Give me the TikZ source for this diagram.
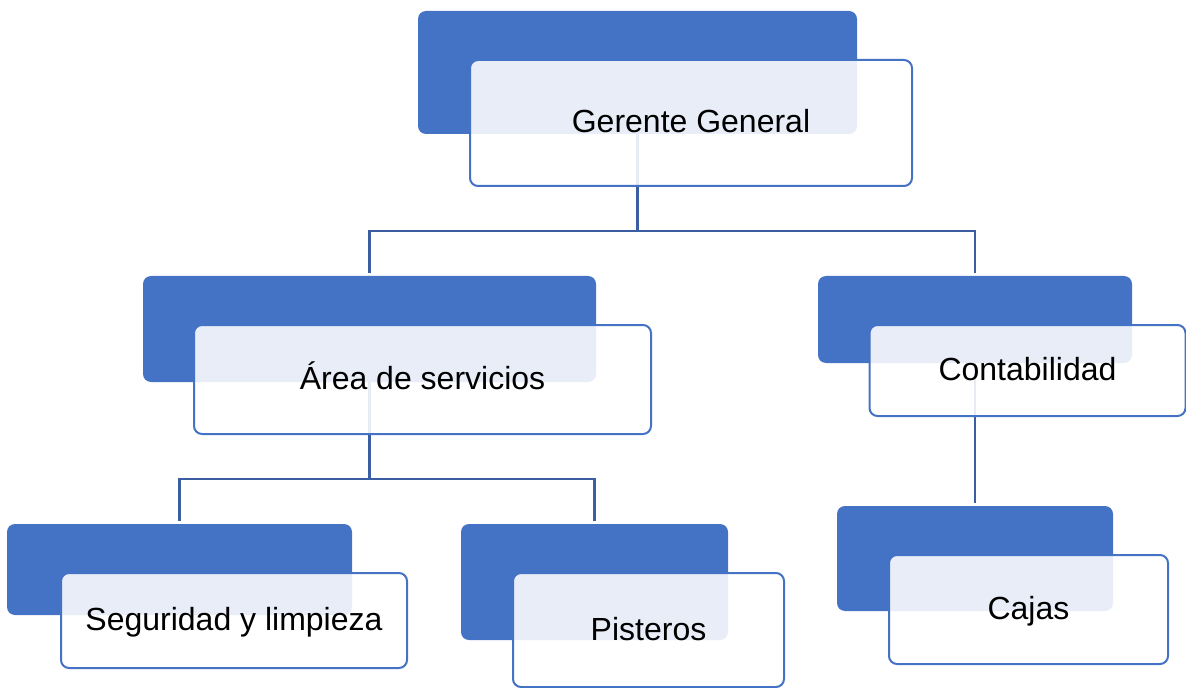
\documentclass[tikz,border=0pt]{standalone}
\usepackage{fontspec}
\setmainfont{Liberation Sans}
\definecolor{accent}{HTML}{4472C4}
\definecolor{connblue}{RGB}{59,94,163}
\def\u{0.75pt}
\tikzset{
  back/.style={fill=accent, draw=none, rounded corners=6pt, inner sep=0pt},
  front/.style={draw=accent, line width=1.5pt, fill=white, fill opacity=0.88, text opacity=1,
    rounded corners=6pt, inner sep=0pt, text height=15pt, text depth=0pt,
    font=\fontsize{24}{28}\selectfont, align=center},
  conn/.style={draw=connblue, line width=1.6pt},
}
\begin{document}
\begin{tikzpicture}[x=0.75pt, y=-0.75pt]
\useasboundingbox (0,0) rectangle (1186,688);
% back (blue) boxes
\node[back, minimum width=439*\u, minimum height=123*\u] (gb) at (637.5,72.5) {};
\node[back, minimum width=453*\u, minimum height=106*\u] (ab) at (369.5,329) {};
\node[back, minimum width=314*\u, minimum height=87*\u] (cb) at (975,319.5) {};
\node[back, minimum width=345*\u, minimum height=91*\u] (sb) at (179.5,569.5) {};
\node[back, minimum width=267*\u, minimum height=116*\u] (pb) at (594.5,582) {};
\node[back, minimum width=276*\u, minimum height=105*\u] (kb) at (975,558.5) {};
% connectors
\draw[conn] (gb.south) |- ([yshift=45*\u]ab.north) -- ([yshift=3*\u]ab.north);
\draw[conn] (gb.south) |- ([yshift=45*\u]cb.north) -- ([yshift=3*\u]cb.north);
\draw[conn] (ab.south) |- ([yshift=45*\u]sb.north) -- ([yshift=3*\u]sb.north);
\draw[conn] (ab.south) |- ([yshift=45*\u]pb.north) -- ([yshift=3*\u]pb.north);
\draw[conn] (cb.south) -- ([yshift=3*\u]kb.north);
% front boxes with text
\node[front, minimum width=442*\u, minimum height=126*\u] (g) at (691,123) {Gerente General};
\node[front, minimum width=457*\u, minimum height=109*\u] (a) at (422.5,379.5) {Área de servicios};
\node[front, minimum width=316*\u, minimum height=91*\u] (c) at (1027.5,370.5) {Contabilidad};
\node[front, minimum width=346*\u, minimum height=95*\u] (s) at (234,620.5) {Seguridad y limpieza};
\node[front, minimum width=271*\u, minimum height=114*\u] (p) at (648.5,630) {Pisteros};
\node[front, minimum width=279*\u, minimum height=109*\u] (k) at (1028.5,609.5) {Cajas};
\end{tikzpicture}
\end{document}
